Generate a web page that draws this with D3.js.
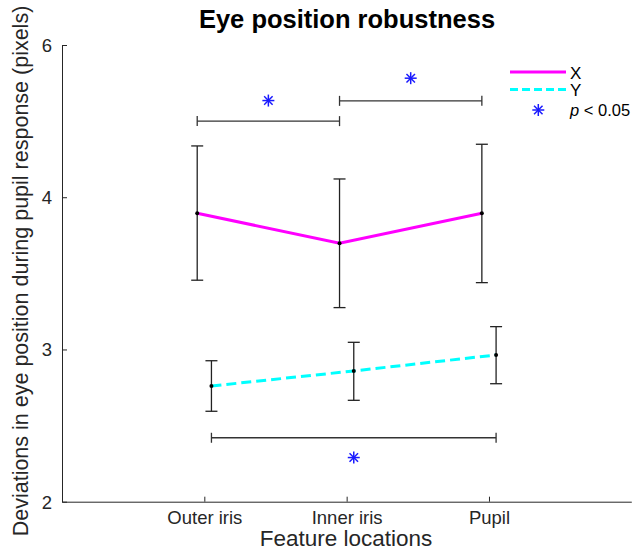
<!DOCTYPE html>
<html><head><meta charset="utf-8">
<script src="https://cdn.jsdelivr.net/npm/d3@7"></script>
<style>body{margin:0;background:#fff}svg{display:block;font-family:"Liberation Sans",Arial,Helvetica,sans-serif}</style>
</head><body>
<svg id="c" width="633" height="550"></svg>
<script>
const categories = ["Outer iris", "Inner iris", "Pupil"];
const xMean = [3.895, 3.698, 3.895];
const xLow  = [3.455, 3.275, 3.439];
const xHigh = [4.337, 4.120, 4.348];
const yMean = [2.760, 2.859, 2.964];
const yLow  = [2.594, 2.666, 2.775];
const yHigh = [2.926, 3.047, 3.150];
const yTickValues = [2, 3, 4, 5];
const yTickLabels = ["2", "3", "4", "6"];
// significance brackets
const brackets = [
  {from: 0, to: 1, series: "X", y: 4.50, star: 4.635},
  {from: 1, to: 2, series: "X", y: 4.633, star: 4.782},
  {from: 0, to: 2, series: "Y", y: 2.42, star: 2.29}
];

const svg = d3.select("#c");
const axisColor = "#262626";
const x = d3.scaleLinear().domain([0, 4]).range([62, 631.3]);
const y = d3.scaleLinear().domain([2, 5]).range([501.7, 45]);
const offset = {X: -0.05, Y: 0.05};

// axes
const gx = svg.append("g").attr("transform", `translate(0,${y(2)})`)
  .call(d3.axisBottom(x).tickValues([1, 2, 3]).tickFormat((d) => categories[d - 1]).tickSize(-5).tickSizeOuter(0).tickPadding(9));
const gy = svg.append("g").attr("transform", `translate(${x(0)},0)`)
  .call(d3.axisLeft(y).tickValues(yTickValues).tickFormat((d, i) => yTickLabels[i]).tickSize(-5).tickSizeOuter(0).tickPadding(10));
[gx, gy].forEach(g => {
  g.select(".domain").attr("stroke", axisColor).attr("stroke-width", 1);
  g.selectAll(".tick line").attr("stroke", axisColor);
  g.selectAll(".tick text").attr("fill", axisColor).style("font-size", "18.5px").style("font-family", "Liberation Sans, Arial, sans-serif");
});
gy.selectAll(".tick text").attr("dy", "0.35em");

// title & labels
svg.append("text").attr("x", 347).attr("y", 28).attr("text-anchor", "middle")
  .style("font-size", "25.5px").style("font-weight", "bold").attr("fill", "#000").text("Eye position robustness");
svg.append("text").attr("x", 346).attr("y", 546).attr("text-anchor", "middle")
  .style("font-size", "22.5px").attr("fill", axisColor).text("Feature locations");
svg.append("text").attr("transform", "translate(28,271) rotate(-90)").attr("text-anchor", "middle")
  .style("font-size", "21.5px").attr("fill", axisColor).text("Deviations in eye position during pupil response (pixels)");

function series(mean, low, high, key, color, dash) {
  const xs = mean.map((_, i) => i + 1 + offset[key]);
  const g = svg.append("g").attr("stroke", "#222").attr("stroke-width", 1.3).attr("fill", "none");
  mean.forEach((m, i) => {
    const cx = x(xs[i]);
    g.append("line").attr("x1", cx).attr("x2", cx).attr("y1", y(low[i])).attr("y2", y(high[i]));
    [low[i], high[i]].forEach(v => g.append("line").attr("x1", cx - 6).attr("x2", cx + 6).attr("y1", y(v)).attr("y2", y(v)));
  });
  const line = d3.line().x((d, i) => x(xs[i])).y(d => y(d));
  const p = svg.append("path").datum(mean).attr("d", line).attr("fill", "none")
    .attr("stroke", color).attr("stroke-width", 3);
  if (dash) p.attr("stroke-dasharray", dash);
  svg.append("g").selectAll("circle").data(mean).join("circle")
    .attr("cx", (d, i) => x(xs[i])).attr("cy", d => y(d)).attr("r", 2).attr("fill", "#000");
}
series(xMean, xLow, xHigh, "X", "#ff00ff", null);
series(yMean, yLow, yHigh, "Y", "#00ffff", "10,5");

function star(g, cx, cy, r) {
  const s = g.append("g").attr("stroke", "#1a1aff").attr("stroke-width", 1.5);
  [0, 45, 90, 135].forEach(a => {
    const rad = a * Math.PI / 180;
    s.append("line").attr("x1", cx - r * Math.cos(rad)).attr("y1", cy - r * Math.sin(rad))
      .attr("x2", cx + r * Math.cos(rad)).attr("y2", cy + r * Math.sin(rad));
  });
}
const bg = svg.append("g");
brackets.forEach(b => {
  const x1 = x(b.from + 1 + offset[b.series]), x2 = x(b.to + 1 + offset[b.series]), by = y(b.y);
  const gg = bg.append("g").attr("stroke", "#333").attr("stroke-width", 1.3);
  gg.append("line").attr("x1", x1).attr("x2", x2).attr("y1", by).attr("y2", by);
  [x1, x2].forEach(xx => gg.append("line").attr("x1", xx).attr("x2", xx).attr("y1", by - 5).attr("y2", by + 5));
  star(bg, (x1 + x2) / 2, y(b.star), 6);
});

// legend
const lg = svg.append("g");
lg.append("line").attr("x1", 510).attr("x2", 566).attr("y1", 72).attr("y2", 72).attr("stroke", "#ff00ff").attr("stroke-width", 3);
lg.append("line").attr("x1", 510).attr("x2", 566).attr("y1", 89.5).attr("y2", 89.5).attr("stroke", "#00ffff").attr("stroke-width", 3).attr("stroke-dasharray", "8,4");
star(lg, 538.3, 110, 6);
lg.append("text").attr("x", 570).attr("y", 78.5).style("font-size", "17px").attr("fill", "#000").text("X");
lg.append("text").attr("x", 570).attr("y", 96).style("font-size", "17px").attr("fill", "#000").text("Y");
const pt = lg.append("text").attr("x", 570).attr("y", 116).style("font-size", "16.5px").attr("fill", "#000");
pt.append("tspan").style("font-style", "italic").text("p");
pt.append("tspan").text(" < 0.05");
</script>
</body></html>
